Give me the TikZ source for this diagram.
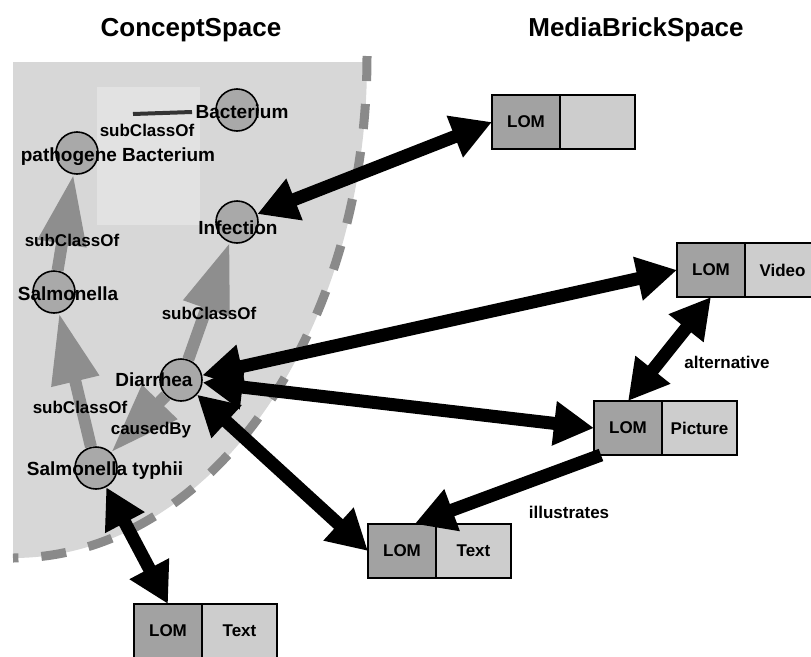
\documentclass[tikz,border=0pt]{standalone}
\usepackage{fontspec}
\setmainfont{Liberation Sans}
\usetikzlibrary{arrows.meta,positioning}
\definecolor{Region}{HTML}{D7D7D7}
\definecolor{Pale}{HTML}{E2E2E2}
\definecolor{Rim}{HTML}{8A8A8A}
\definecolor{Link}{HTML}{8E8E8E}
\definecolor{Ball}{HTML}{A9A9A9}
\definecolor{Meta}{HTML}{A2A2A2}
\definecolor{Media}{HTML}{CDCDCD}

\begin{document}
\begin{tikzpicture}[x=1pt,y=-1pt,
    title/.style={font=\fontsize{26}{30}\selectfont\bfseries},
    concept/.style={circle,draw=black,line width=1.6pt,fill=Ball,
      minimum size=42pt,inner sep=0pt},
    cname/.style={font=\fontsize{19}{22}\selectfont\bfseries},
    rel/.style={font=\fontsize{17}{20}\selectfont\bfseries},
    isa/.style={draw=Link,line width=12pt,-{Triangle[length=70pt,width=46pt]}},
    lom/.style={draw=black,line width=1.5pt,fill=Meta,outer sep=0pt,
      minimum width=68pt,minimum height=54pt,inner sep=0pt,
      font=\fontsize{17}{20}\selectfont\bfseries},
    media/.style={draw=black,line width=1.5pt,fill=Media,outer sep=0pt,
      minimum width=75pt,minimum height=54pt,inner sep=0pt,
      font=\fontsize{17}{20}\selectfont\bfseries},
    link/.style={draw=black,line width=13pt,
      {Triangle[length=40pt,width=42pt]}-{Triangle[length=40pt,width=42pt]}},
    fact/.style={draw=black,line width=13pt,-{Triangle[length=40pt,width=42pt]}}
  ]
    \useasboundingbox (0,0) rectangle (811,656);
    % concept space area
    \fill[Region] (13,62) -- (367,62)
      arc[start angle=0,end angle=-90,x radius=354pt,y radius=496pt] -- cycle;
    \fill[Pale] (97,87) rectangle (200,225);
    \draw[Rim,line width=9pt,dash pattern=on 25pt off 23pt] (367,56)
      arc[start angle=0,end angle=-90,x radius=354pt,y radius=502pt];
    \node[title] (cs) at (191,30) {ConceptSpace};
    \node[title] (mbs) at (636,30) {MediaBrickSpace};

    \node[concept] (bac) at (237,110) {};
    \node[concept] (pb) at (77,153) {};
    \node[concept] (inf) at (237,222) {};
    \node[concept] (sal) at (54,292) {};
    \node[concept] (dia) at (181,380) {};
    \node[concept] (typ) at (96,468) {};

    \draw[isa] (sal) -- (pb);
    \draw[isa] (typ) -- (sal);
    \draw[isa] (dia) -- (inf);
    \draw[isa] (dia) -- (typ);

    \node[cname] (bacT) at (242,112) {Bacterium};
    \node[cname] (pbT) at (118,157) {pathogene Bacterium};
    \node[cname] (infT) at (238,228) {Infection};
    \node[cname] (salT) at (68,294) {Salmonella};
    \node[cname] (diaT) at (154,380) {Diarrhea};
    \node[cname] (typT) at (105,471) {Salmonella typhii};
    \coordinate (scr) at (133,114);
    \draw[line width=4pt,black!80] (scr) -- (bacT.west);

    \node[rel] at (147,130) {subClassOf};
    \node[rel] at (72,240) {subClassOf};
    \node[rel] at (209,313) {subClassOf};
    \node[rel] at (80,407) {subClassOf};
    \node[rel] at (151,430) {causedBy};

    % media bricks
    \foreach \b/\x/\y/\kind in {b1/526/122/{},b2/711/270/Video,
        b3/628/428/Picture,b4/402/551/Text,b5/168/631/Text}{
      \node[lom] (\b l) at (\x,\y) {LOM};
      \node[media,right=0pt of \b l] (\b r) {\kind};
    }

    \draw[link] (inf) -- (b1l.west);
    \foreach \t in {b2l.west,b3l.west,b4l.west}
      \draw[link] (dia) -- (\t);
    \draw[link] (typ) -- (b5l.north);
    \draw[link] (b2l.south) -- (b3l.north);
    \draw[fact] (b3l.-135) -- (b4l.65);
    \node[rel] at (727,362) {alternative};
    \node[rel] at (569,512) {illustrates};
\end{tikzpicture}
\end{document}
